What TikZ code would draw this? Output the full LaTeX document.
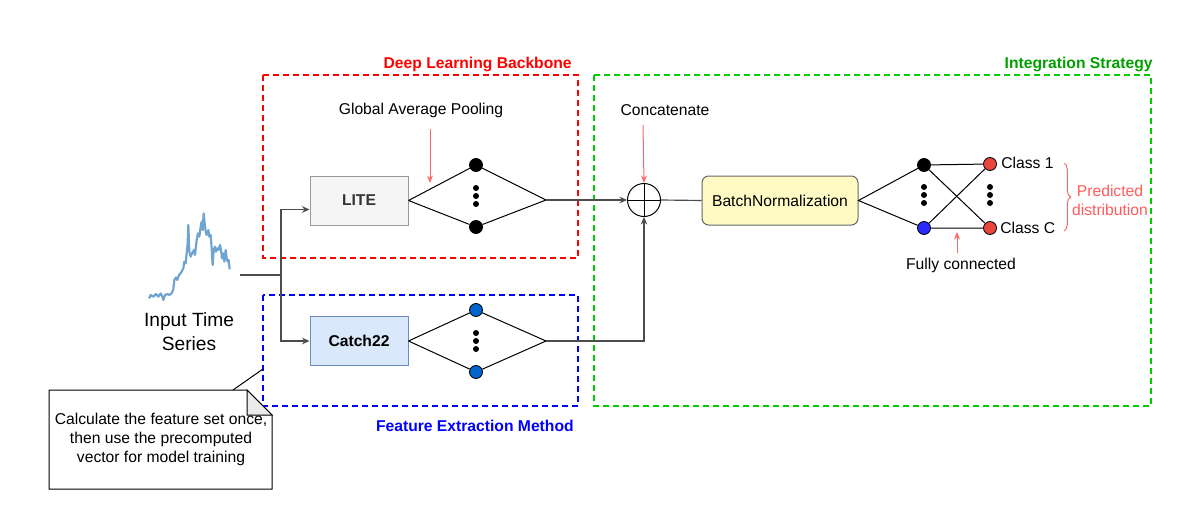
\documentclass[tikz,border=0pt]{standalone}
\usepackage{fontspec}
\setmainfont{Liberation Sans}
\usetikzlibrary{arrows.meta,positioning,decorations.pathreplacing}

\definecolor{dlred}{HTML}{FF0000}
\definecolor{fegreen}{HTML}{00CC00}
\definecolor{titlegreen}{HTML}{00A000}
\definecolor{feblue}{HTML}{0000FF}
\definecolor{softred}{HTML}{FF6666}
\definecolor{seriesblue}{HTML}{6FA3D0}
\definecolor{litefill}{HTML}{F5F5F5}
\definecolor{catchfill}{HTML}{DAE8FC}
\definecolor{catchdraw}{HTML}{6C8EBF}
\definecolor{bnfill}{HTML}{FFF9C4}
\definecolor{neuronblue}{HTML}{0066CC}
\definecolor{fcblue}{HTML}{2B2BFF}
\definecolor{classred}{HTML}{E8453C}

\tikzset{
  regionbox/.style={line width=0.8pt, dash pattern=on 3.6pt off 2.4pt},
  blockbox/.style={draw, line width=0.6pt, minimum width=58.8pt, minimum height=29.4pt},
  neuron/.style={circle, draw=black, line width=0.5pt, inner sep=0pt, minimum size=7.8pt},
  dotnode/.style={circle, fill=black, inner sep=0pt, minimum size=3.6pt},
  conn/.style={draw=black!70, line width=0.7pt},
  tip/.style={-{Stealth[length=4.5pt,width=4pt]}},
  remark/.style={softred, line width=0.6pt, -{Stealth[length=4.5pt,width=3.5pt]}},
  title/.style={font=\fontsize{9.4}{11.3}\selectfont\bfseries, inner sep=0pt}
}

\begin{document}
\begin{tikzpicture}[x=0.6pt, y=-0.6pt, font=\fontsize{9.4}{11.3}\selectfont]
  \useasboundingbox (0,0) rectangle (1187,528);

  % Region frames
  \draw[regionbox, dlred] (263,75) rectangle (578,258);
  \draw[regionbox, feblue] (263,295) rectangle (578,406);
  \draw[regionbox, fegreen] (594,75) rectangle (1151,406);

  % Region titles
  \node[title, dlred, anchor=east] (dltitle) at (572,64) {Deep Learning Backbone};
  \node[title, titlegreen, anchor=east] (intitle) at (1153,64) {Integration Strategy};
  \node[title, feblue, anchor=east] (fetitle) at (574,426) {Feature Extraction Method};

  % Input time series
  \begin{scope}[shift={(130,200)}, x=0.2pt, y=-0.2pt]
    \draw[seriesblue, line width=1.3pt, line join=round]
      (57,295) -- (62,285) -- (70,290) -- (78,282) -- (85,290) -- (92,280) -- (97,290)
      -- (100,300) -- (105,285) -- (112,282) -- (118,285) -- (125,280) -- (130,268)
      -- (133,240) -- (138,232) -- (142,240) -- (147,225) -- (150,222) -- (155,215)
      -- (160,205) -- (163,185) -- (167,190) -- (170,160) -- (173,130) -- (175,75)
      -- (178,155) -- (182,170) -- (187,158) -- (192,150) -- (195,165) -- (200,120)
      -- (204,100) -- (208,110) -- (212,80) -- (215,65) -- (218,90) -- (221,40)
      -- (224,70) -- (227,95) -- (230,105) -- (235,90) -- (238,110) -- (242,105)
      -- (245,145) -- (248,195) -- (251,150) -- (255,140) -- (258,155) -- (262,145)
      -- (265,150) -- (270,135) -- (273,150) -- (276,175) -- (280,160) -- (283,185)
      -- (287,150) -- (290,175) -- (293,185) -- (296,180) -- (299,208);
  \end{scope}
  \node[align=center, font=\fontsize{11.5}{14.4}\selectfont] (input) at (189,332) {Input Time\\Series};
  \coordinate (tsend) at (240,275);
  \coordinate (fork) at (281,275);

  % Backbone and feature blocks
  \node[blockbox, draw=black!40, fill=litefill, text=black!80, font=\fontsize{9.4}{11.3}\selectfont\bfseries] (lite) at (359,200.5) {LITE};
  \node[blockbox, draw=catchdraw, fill=catchfill, font=\fontsize{9.4}{11.3}\selectfont\bfseries] (catch) at (359,341) {Catch22};

  \draw[conn] (tsend) -- (fork);
  \draw[conn, tip] (fork) |- ([yshift=-5.4pt]lite.west);
  \draw[conn, tip] (fork) |- (catch.west);

  % Global average pooling
  \node[neuron, fill=black] (lt1) at (476,165) {};
  \node[neuron, fill=black] (lt2) at (476,227) {};
  \coordinate (ltR) at (546,200);
  \draw[line width=0.6pt] (lite.east) -- (lt1) -- (ltR) -- (lt2) -- (lite.east);
  \foreach \y in {188,196,204} \node[dotnode] at (476,\y) {};

  % Catch22 features
  \node[neuron, fill=neuronblue] (ct1) at (476,310) {};
  \node[neuron, fill=neuronblue] (ct2) at (476,372) {};
  \coordinate (ctR) at (546,341);
  \draw[line width=0.6pt] (catch.east) -- (ct1) -- (ctR) -- (ct2) -- (catch.east);
  \foreach \y in {333,341,349} \node[dotnode] at (476,\y) {};

  \node (gap) at (421,110) {Global Average Pooling};
  \draw[remark] (gap.south -| 430,0) ++(0,6) -- (430,183);

  % Concatenate
  \node[circle, draw=black, line width=0.6pt, minimum size=19.8pt, inner sep=0pt,
        path picture={\draw[line width=0.6pt] (path picture bounding box.north) -- (path picture bounding box.south)
                      (path picture bounding box.west) -- (path picture bounding box.east);}] (plus) at (644,200) {};
  \draw[conn, tip] (ltR) -- (plus.west);
  \draw[conn, tip] (ctR) -| (plus.south);
  \node (concat) at (665,110) {Concatenate};
  \draw[remark] (643,125) -- (plus.north);

  % Batch normalization
  \node[blockbox, draw=black!60, fill=bnfill, rounded corners=4pt, minimum width=93.6pt] (bn) at (780,200.5) {BatchNormalization};
  \draw[conn] (plus.east) -- (bn.west);

  % Fully connected layer
  \node[neuron, fill=black] (fc1) at (924,165) {};
  \node[neuron, fill=fcblue] (fc2) at (924,228) {};
  \node[neuron, fill=classred] (cl1) at (990,164) {};
  \node[neuron, fill=classred] (clC) at (990,228) {};
  \draw[line width=0.6pt] (fc1) -- (bn.east) -- (fc2);
  \draw[line width=0.6pt] (fc1) -- (cl1) (fc1) -- (clC) (fc2) -- (cl1) (fc2) -- (clC);
  \foreach \y in {187,195,203} {
    \node[dotnode] at (924,\y) {};
    \node[dotnode] at (990,\y) {};
  }
  \node[anchor=west, inner sep=0pt] (c1) at (1001,163) {Class 1};
  \node[anchor=west, inner sep=0pt] (cC) at (1000,228) {Class C};

  \node (fc) at (961,265) {Fully connected};
  \draw[remark] (957,253) -- (957,232);

  % Predicted distribution
  \coordinate (brtop) at (1064,163);
  \coordinate (brbot) at (1064,231);
  \draw[softred, line width=0.6pt, decorate, decoration={brace, amplitude=4pt}] (brtop) -- (brbot);
  \node[align=center, text=softred!90!red] (pred) at (1110,200) {Predicted\\distribution};

  % Note on the feature set
  \draw[line width=0.6pt, fill=white] (49,390) -- (247,390) -- (272,415) -- (272,489) -- (49,489) -- cycle;
  \draw[line width=0.6pt, fill=black!8] (247,390) -- (247,415) -- (272,415) -- cycle;
  \node[align=center, font=\fontsize{9.4}{11.4}\selectfont] (note) at (161,439)
    {Calculate the feature set once,\\then use the precomputed\\vector for model training};
  \coordinate (notetip) at (233,390);
  \coordinate (noteend) at (263,369);
  \draw[line width=0.6pt] (notetip) -- (noteend);
\end{tikzpicture}
\end{document}
